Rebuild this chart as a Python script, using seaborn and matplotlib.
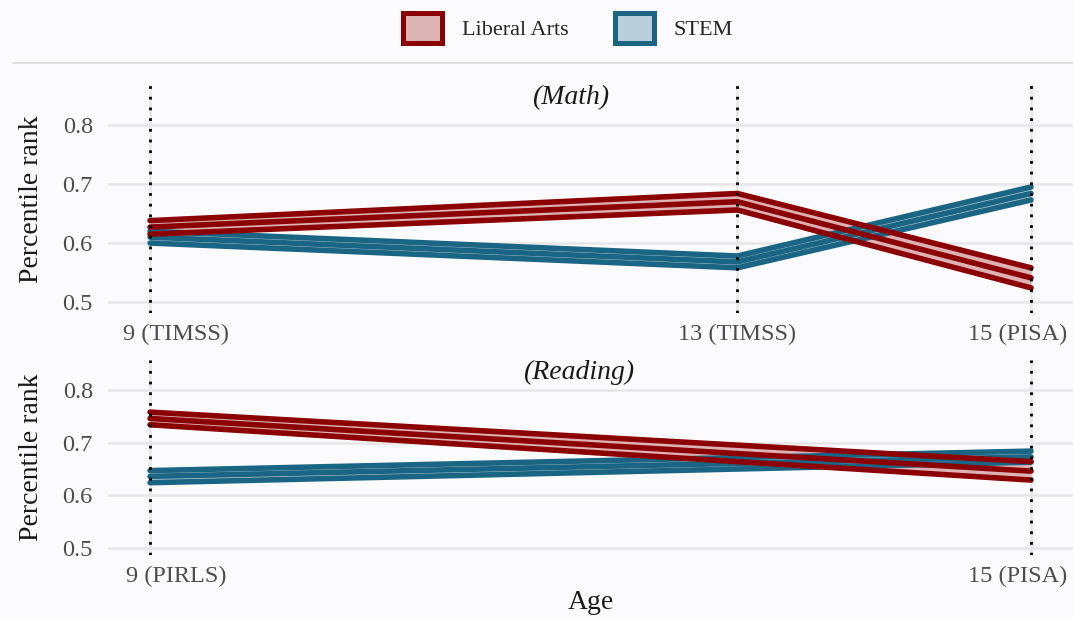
import numpy as np
import pandas as pd
import matplotlib
matplotlib.use("Agg")
import matplotlib.pyplot as plt
import matplotlib.transforms as mtransforms
from matplotlib.patches import Patch
from matplotlib.lines import Line2D
import seaborn as sns

# ---------------- data ----------------
GROUPS = ["Liberal Arts", "STEM"]
DARK = {"Liberal Arts": "#8b0000", "STEM": "#1b6584"}
LIGHT = {"Liberal Arts": "#dcb2b4", "STEM": "#b9cfdb"}

MATH_AGES = [9, 13, 15]
MATH_TICKLABELS = ["9 (TIMSS)", "13 (TIMSS)", "15 (PISA)"]
MATH_LA_LO = [0.615, 0.656, 0.524]
MATH_LA_MEAN = [0.627, 0.670, 0.541]
MATH_LA_HI = [0.638, 0.684, 0.558]
MATH_STEM_LO = [0.600, 0.558, 0.673]
MATH_STEM_MEAN = [0.610, 0.568, 0.684]
MATH_STEM_HI = [0.620, 0.578, 0.695]

READ_AGES = [9, 15]
READ_TICKLABELS = ["9 (PIRLS)", "15 (PISA)"]
READ_LA_LO = [0.734, 0.629]
READ_LA_MEAN = [0.746, 0.646]
READ_LA_HI = [0.758, 0.664]
READ_STEM_LO = [0.624, 0.663]
READ_STEM_MEAN = [0.636, 0.673]
READ_STEM_HI = [0.647, 0.684]

Y_TICKS = [0.5, 0.6, 0.7, 0.8]

BG = "#fbfbfd"
GRID = "#e6e6ea"


def long_frame(ages, la, stem):
    rows = []
    for group, (lo, mean, hi) in zip(GROUPS, [la, stem]):
        for stat, vals in zip(["lo", "mean", "hi"], [lo, mean, hi]):
            for a, v in zip(ages, vals):
                rows.append({"age": a, "value": v, "group": group, "stat": stat})
    return pd.DataFrame(rows)


def draw_panel(ax, ages, la, stem, ticklabels, title, title_x, ylim, offsets):
    df = long_frame(ages, la, stem)
    for group, (lo, mean, hi) in zip(GROUPS, [la, stem]):
        ax.fill_between(ages, lo, hi, color=LIGHT[group], lw=0, zorder=2)
    sns.lineplot(
        data=df, x="age", y="value", hue="group", units="stat",
        estimator=None, hue_order=["STEM", "Liberal Arts"],
        palette=DARK, linewidth=4.0, legend=False, ax=ax, zorder=3,
        solid_capstyle="round",
    )
    for a in ages:
        ax.axvline(a, color="black", linestyle=(0, (1, 2.85)), linewidth=2.0, zorder=5)

    ax.set_xlim(8.714, 15.286)
    ax.set_ylim(*ylim)
    ax.set_yticks(Y_TICKS)
    ax.set_yticklabels([f"{v:.1f}" for v in Y_TICKS])
    ax.set_xticks(ages)
    ax.set_xticklabels(ticklabels)
    ax.set_xlabel("")
    ax.set_ylabel("Percentile rank", fontsize=20, color="#1a1a1a", labelpad=13)
    ax.tick_params(length=0, labelsize=17.5, labelcolor="#4d4d4d")
    ax.tick_params(axis="y", pad=11)
    ax.tick_params(axis="x", pad=8)
    ax.grid(True, color=GRID, linewidth=1.8)
    ax.set_axisbelow(True)
    ax.set_facecolor(BG)
    for s in ax.spines.values():
        s.set_visible(False)
    ax.text(title_x, 1.0, title, transform=ax.transAxes, ha="center", va="top",
            fontsize=20, fontstyle="italic", color="#1a1a1a", zorder=6)
    fig = ax.figure
    for lbl, dx in zip(ax.get_xticklabels(), offsets):
        lbl.set_transform(lbl.get_transform()
                          + mtransforms.ScaledTranslation(dx / 100, 0, fig.dpi_scale_trans))


sns.set_theme(style="whitegrid")
plt.rcParams["font.family"] = ["Liberation Serif", "DejaVu Serif"]
plt.rcParams["figure.facecolor"] = BG

fig = plt.figure(figsize=(10.73, 6.19), dpi=100)
ax_m = fig.add_axes([0.1007, 0.4943, 0.8993, 0.3684])
ax_r = fig.add_axes([0.1007, 0.1034, 0.8993, 0.3150])

draw_panel(ax_m, MATH_AGES,
           (MATH_LA_LO, MATH_LA_MEAN, MATH_LA_HI),
           (MATH_STEM_LO, MATH_STEM_MEAN, MATH_STEM_HI),
           MATH_TICKLABELS, "(Math)", 0.479, (0.4814, 0.8678), [26, 0, -13])
draw_panel(ax_r, READ_AGES,
           (READ_LA_LO, READ_LA_MEAN, READ_LA_HI),
           (READ_STEM_LO, READ_STEM_MEAN, READ_STEM_HI),
           READ_TICKLABELS, "(Reading)", 0.488, (0.4867, 0.857), [26, -13])
ax_r.set_xlabel("Age", fontsize=20, color="#1a1a1a", labelpad=2)

# legend + separator line
handles = [Patch(facecolor=LIGHT[g], edgecolor=DARK[g], linewidth=3.6, label=g) for g in GROUPS]
fig.legend(handles=handles, loc="center", bbox_to_anchor=(568 / 1073, 1 - 28 / 619),
           ncol=2, frameon=False, fontsize=16, handlelength=1.75, handleheight=1.75,
           handletextpad=0.9, columnspacing=2.1)
fig.add_artist(Line2D([13 / 1073, 1.0], [1 - 63 / 619, 1 - 63 / 619],
                      transform=fig.transFigure, color="#dcdce0", linewidth=1.2))

fig.savefig("out.png", dpi=100, facecolor=BG)
